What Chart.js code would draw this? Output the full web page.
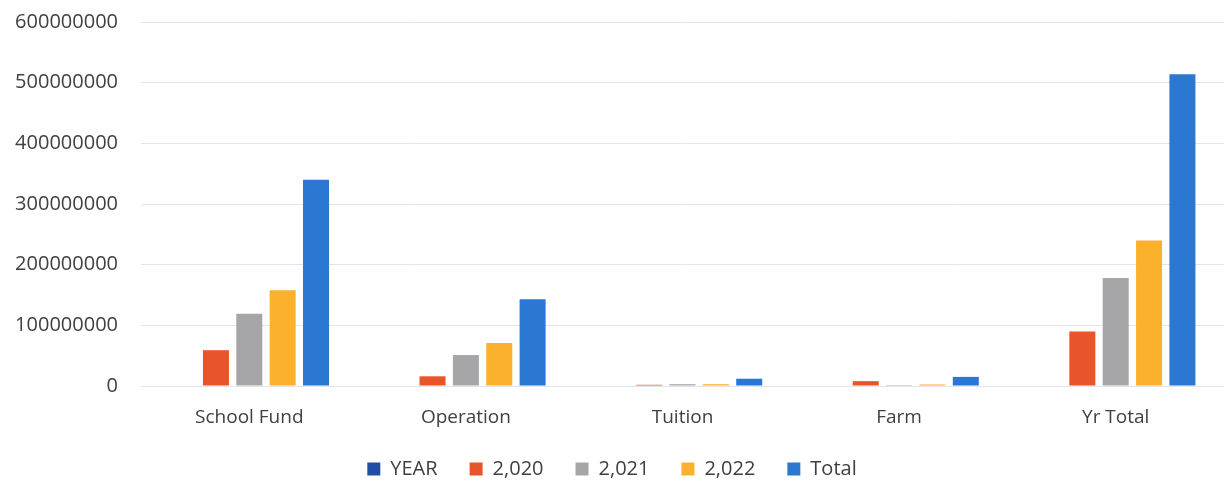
<!DOCTYPE html>
<html>
<head>
<meta charset="utf-8">
<script src="https://cdn.jsdelivr.net/npm/chart.js@4/dist/chart.umd.min.js"></script>
<style>
  html, body { margin: 0; padding: 0; background: #fff; }
  #wrap { width: 1224px; height: 480px; position: relative; }
</style>
</head>
<body>
<div id="wrap"><canvas id="myChart"></canvas></div>
<script>
// chart data
const categories = ['School Fund', 'Operation', 'Tuition', 'Farm', 'Yr Total'];
const seriesNames = ['YEAR', '2,020', '2,021', '2,022', 'Total'];
const yearValues = [0, 0, 0, 0, 0];
const values2020 = [59000000, 16000000, 2000000, 8000000, 90000000];
const values2021 = [119000000, 51000000, 3000000, 1500000, 178000000];
const values2022 = [158000000, 71000000, 3000000, 2500000, 240000000];
const totalValues = [340000000, 143000000, 12000000, 15000000, 514000000];
const yTicks = [0, 100000000, 200000000, 300000000, 400000000, 500000000, 600000000];

const colors = ['#1f4ea3', '#e8552b', '#a6a6a8', '#fbb12c', '#2a78d2'];
const allValues = [yearValues, values2020, values2021, values2022, totalValues];

// fixed legend height so the legend row sits near the bottom
const legendFit = {
    id: 'legendFit',
    beforeInit(chart) {
        const fit = chart.legend.fit;
        chart.legend.fit = function () {
            fit.bind(chart.legend)();
            this.height = 53;
        };
    }
};

document.addEventListener("DOMContentLoaded", () => {
    Chart.defaults.font.family = '"Open Sans", Lato, sans-serif';
    Chart.defaults.color = '#404040';

    const ctx = document.getElementById('myChart').getContext('2d');
    new Chart(ctx, {
        type: 'bar',
        data: {
            labels: categories,
            datasets: seriesNames.map((name, i) => ({
                label: name,
                data: allValues[i],
                backgroundColor: colors[i],
                borderWidth: 0,
                barPercentage: 0.78,
                categoryPercentage: 0.77
            }))
        },
        options: {
            responsive: true,
            maintainAspectRatio: false,
            animation: false,
            layout: { padding: 0 },
            plugins: {
                legend: {
                    position: 'bottom',
                    labels: { boxWidth: 13, boxHeight: 13, padding: 32, font: { size: 20 } }
                },
                tooltip: { enabled: false }
            },
            scales: {
                x: {
                    grid: { display: false, drawTicks: false },
                    border: { display: false },
                    ticks: { font: { size: 19 }, padding: 20, maxRotation: 0 },
                    afterFit: (axis) => { axis.height = 41; }
                },
                y: {
                    min: 0,
                    max: 600000000,
                    afterBuildTicks: (axis) => { axis.ticks = yTicks.map(v => ({ value: v })); },
                    grid: { color: '#e3e4ee', drawTicks: false },
                    border: { display: false },
                    ticks: { font: { size: 20 }, padding: 23, callback: (v) => String(v) },
                    afterFit: (axis) => {
                        axis.width = 141;
                        axis.paddingTop = 22;
                        axis.paddingBottom = 0;
                    }
                }
            }
        },
        plugins: [legendFit]
    });
});
</script>
</body>
</html>
